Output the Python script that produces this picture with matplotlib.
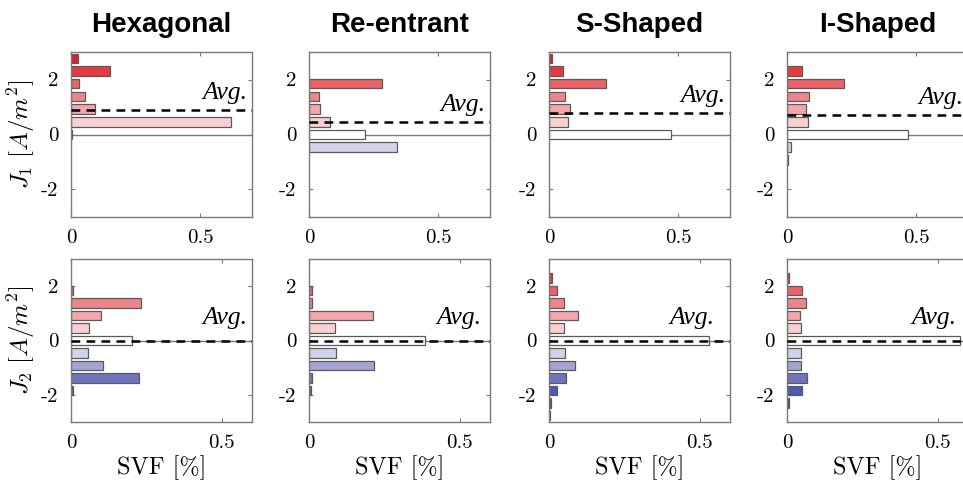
import numpy as np
import matplotlib.pyplot as plt

plt.rcParams['mathtext.fontset'] = 'cm'

# shapes and histogram bins of the current density (13 equal bins over [-3, 3])
shapes = ["Hexagonal", "Re-entrant", "S-Shaped", "I-Shaped"]
j_edges = np.linspace(-3, 3, 14)
j_centers = 0.5 * (j_edges[:-1] + j_edges[1:])

# SVF per bin, ordered from the most negative bin to the most positive one
svf_j1 = {
    "Hexagonal":  [0, 0, 0, 0, 0, 0, 0.005, 0.620, 0.094, 0.055, 0.031, 0.150, 0.028],
    "Re-entrant": [0, 0, 0, 0, 0, 0.340, 0.215, 0.083, 0.044, 0.040, 0.283, 0, 0],
    "S-Shaped":   [0, 0, 0, 0, 0, 0, 0.472, 0.073, 0.083, 0.063, 0.222, 0.053, 0.013],
    "I-Shaped":   [0, 0, 0, 0, 0.004, 0.016, 0.468, 0.080, 0.074, 0.084, 0.222, 0.059, 0],
}
svf_j2 = {
    "Hexagonal":  [0, 0, 0.006, 0.226, 0.106, 0.058, 0.201, 0.061, 0.098, 0.232, 0.007, 0, 0],
    "Re-entrant": [0, 0, 0.007, 0.009, 0.215, 0.090, 0.385, 0.085, 0.212, 0.009, 0.009, 0, 0],
    "S-Shaped":   [0.003, 0.007, 0.025, 0.055, 0.087, 0.054, 0.530, 0.050, 0.095, 0.049, 0.025, 0.009, 0],
    "I-Shaped":   [0, 0.008, 0.050, 0.067, 0.046, 0.047, 0.575, 0.048, 0.044, 0.064, 0.050, 0.008, 0],
}
avg_j1 = [0.89, 0.46, 0.80, 0.72]
avg_j2 = [0.0, 0.0, 0.0, 0.0]

# blue-white-red colours, one per bin
bin_colors = ["#1f2d8a", "#34449a", "#4a5bb0", "#6d74bd", "#a4a4d4", "#d2d2ea",
              "#ffffff",
              "#f8cfd3", "#f3a6ab", "#ee8589", "#ec6166", "#e63b43", "#dd1f2a"]

W, H = 963, 484
fig = plt.figure(figsize=(W / 100, H / 100), dpi=100)

lefts = [71, 309, 549, 787]
width = 181
rows = [(52, 217, svf_j1, avg_j1, 0.7, 1), (259, 422, svf_j2, avg_j2, 0.6, 2)]
avg_offsets = [[(-3, 4), (-3, 4), (-3, 4), (-3, 4)],
               [(-3, 8), (-6, 8), (-11, 8), (-8, 8)]]

gray = "#7a7a7a"
for r, (top, bot, data, avgs, xmax, jn) in enumerate(rows):
    for c, name in enumerate(shapes):
        ax = fig.add_axes([lefts[c] / W, (H - bot) / H, width / W, (bot - top) / H])
        vals = np.array(data[name])
        keep = vals > 0
        ax.barh(j_centers[keep], vals[keep], height=0.75 * (j_edges[1] - j_edges[0]),
                color=np.array(bin_colors)[keep], edgecolor="#5a5a5a", linewidth=0.9,
                zorder=2)
        ax.axhline(0, color=gray, lw=1.0, zorder=1)
        ax.axhline(avgs[c], color="black", lw=1.8, ls=(0, (3.5, 2.5)), zorder=3)
        ax.annotate("Avg.", xy=(1, avgs[c]), xycoords=("axes fraction", "data"),
                    xytext=avg_offsets[r][c], textcoords="offset points",
                    ha="right", va="bottom", fontsize=18.5, style="italic",
                    family="Liberation Serif", zorder=4)
        ax.set_xlim(0, xmax)
        ax.set_ylim(-3, 3)
        ax.set_xticks([0, 0.5])
        ax.set_xticklabels(["0", "0.5"], family="cmr10", fontsize=15)
        ax.set_yticks([-2, 0, 2])
        ax.set_yticklabels(["-2", "0", "2"], family="cmr10", fontsize=15)
        ax.tick_params(direction="in", length=3, width=0.8, color=gray,
                       top=True, right=True, pad=9)
        for s in ax.spines.values():
            s.set_color(gray)
            s.set_linewidth(1.0)
        if c == 0:
            ax.set_ylabel(r"$J_%d\ [A/m^2]$" % jn, fontsize=18)
            ax.yaxis.set_label_coords(-0.19, 0.5)
        if r == 0:
            fig.text((lefts[c] + width / 2) / W, 1 - 25 / H, name, ha="center",
                     va="center", fontsize=20, fontweight="bold",
                     family="Liberation Sans")
        else:
            ax.set_xlabel("SVF [%]", family="cmr10", fontsize=17.5, labelpad=2)

fig.savefig("out.png", dpi=100)
